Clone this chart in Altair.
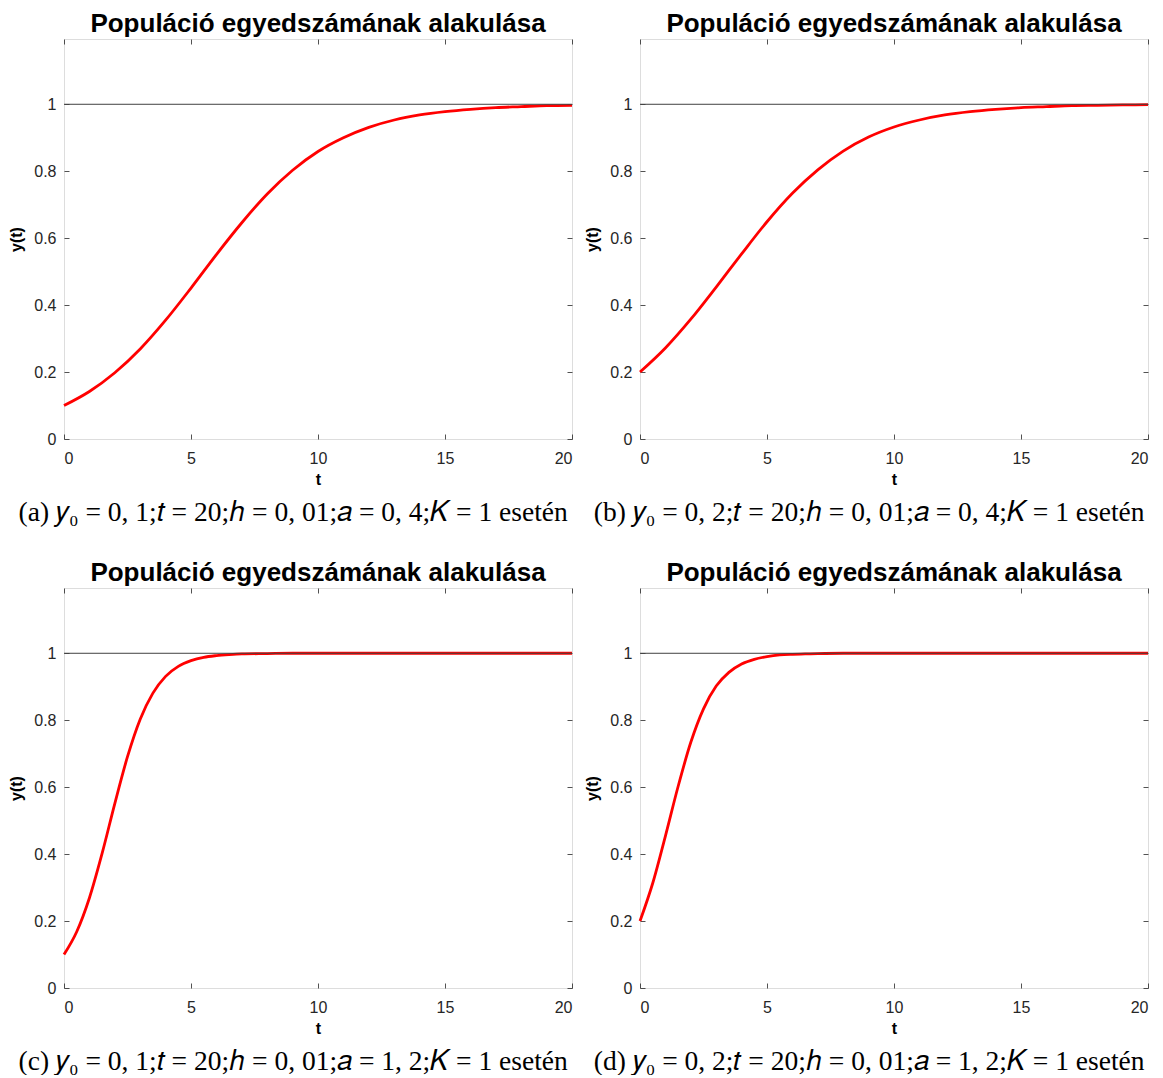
import altair as alt
import pandas as pd

# ---- data ----
TITLE = "Populáció egyedszámának alakulása"
X_LABEL = "t"
Y_LABEL = "y(t)"
K_VALUE = 1.0
T_RANGE = [0, 20]
X_TICKS = [0, 5, 10, 15, 20]
Y_TICKS = [0, 0.2, 0.4, 0.6, 0.8, 1]
Y_MAX = 1.195

# slow growth (a = 0,4)
t_slow = [0, 1, 2, 3, 4, 5, 6, 7, 8, 9, 10, 11, 12, 13, 14, 15, 16, 17, 18, 19, 20]
y_a = [0.10, 0.142, 0.198, 0.269, 0.355, 0.451, 0.551, 0.646, 0.732, 0.803, 0.859,
       0.900, 0.931, 0.953, 0.968, 0.978, 0.985, 0.990, 0.993, 0.996, 0.997]
y_b = [0.20, 0.272, 0.358, 0.454, 0.553, 0.649, 0.734, 0.804, 0.860, 0.902, 0.932,
       0.953, 0.968, 0.978, 0.985, 0.990, 0.993, 0.996, 0.997, 0.998, 0.999]

# fast growth (a = 1,2)
t_fast = [0, 0.5, 1, 1.5, 2, 2.5, 3, 3.5, 4, 4.5, 5, 5.5, 6, 6.5, 7, 8, 9, 10,
          12, 14, 16, 18, 20]
y_c = [0.10, 0.168, 0.269, 0.402, 0.551, 0.691, 0.803, 0.881, 0.931, 0.961, 0.978,
       0.988, 0.993, 0.996, 0.998, 0.999, 1.0, 1.0, 1.0, 1.0, 1.0, 1.0, 1.0]
y_d = [0.20, 0.313, 0.454, 0.602, 0.734, 0.834, 0.902, 0.943, 0.968, 0.982, 0.990,
       0.995, 0.997, 0.998, 0.999, 1.0, 1.0, 1.0, 1.0, 1.0, 1.0, 1.0, 1.0]

CAPTIONS = [
    "(a) 𝑦₀ = 0, 1;𝑡 = 20;ℎ = 0, 01;𝑎 = 0, 4;𝐾 = 1 esetén",
    "(b) 𝑦₀ = 0, 2;𝑡 = 20;ℎ = 0, 01;𝑎 = 0, 4;𝐾 = 1 esetén",
    "(c) 𝑦₀ = 0, 1;𝑡 = 20;ℎ = 0, 01;𝑎 = 1, 2;𝐾 = 1 esetén",
    "(d) 𝑦₀ = 0, 2;𝑡 = 20;ℎ = 0, 01;𝑎 = 1, 2;𝐾 = 1 esetén",
]

SANS = "Liberation Sans"
SERIF = "Liberation Serif"
AX = "#262626"

xscale = alt.Scale(domain=T_RANGE, nice=False, zero=False)
yscale = alt.Scale(domain=[0, Y_MAX], nice=False)

bottom_axis = alt.Axis(orient="bottom", values=X_TICKS, format="~g", offset=-5, tickSize=5,
                       tickColor=AX, tickWidth=0.8, domain=False, grid=False,
                       labelPadding=11, labelFont=SANS, labelFontSize=16, labelColor=AX,
                       title=X_LABEL, titleFont=SANS, titleFontSize=16, titleFontWeight="bold",
                       titleColor="#000000", titlePadding=5)
left_axis = alt.Axis(orient="left", values=Y_TICKS, format="~g", offset=-5, tickSize=5,
                     tickColor=AX, tickWidth=0.8, domain=False, grid=False,
                     labelPadding=8, labelFont=SANS, labelFontSize=16, labelColor=AX,
                     title=Y_LABEL, titleFont=SANS, titleFontSize=16, titleFontWeight="bold",
                     titleColor="#000000", titlePadding=9)
top_axis = alt.Axis(orient="top", values=X_TICKS, offset=-5, tickSize=5, tickColor=AX,
                    tickWidth=0.8, domain=False, grid=False, labels=False, title="")
right_axis = alt.Axis(orient="right", values=Y_TICKS, offset=-5, tickSize=5, tickColor=AX,
                      tickWidth=0.8, domain=False, grid=False, labels=False, title="")


def panel(t, y, caption):
    df = pd.DataFrame({"t": t, "y": y})
    kdf = pd.DataFrame({"t": T_RANGE, "k": [K_VALUE, K_VALUE]})
    curve = alt.Chart(df).mark_line(color="#ff0000", strokeWidth=2.8,
                                    interpolate="monotone").encode(
        x=alt.X("t:Q", scale=xscale, axis=bottom_axis),
        y=alt.Y("y:Q", scale=yscale, axis=left_axis),
    )
    kline = alt.Chart(kdf).mark_line(color="#404040", strokeWidth=1).encode(
        x=alt.X("t:Q", scale=xscale, axis=top_axis),
        y=alt.Y("k:Q", scale=yscale, axis=right_axis),
    )
    plot = alt.layer(curve, kline).resolve_axis(x="independent", y="independent").properties(
        width=508, height=400,
        title=alt.TitleParams(TITLE, font=SANS, fontSize=26, fontWeight="bold",
                              color="#000000", offset=2, anchor="middle"),
    )
    return alt.vconcat(plot, title=alt.TitleParams(caption, orient="bottom", font=SERIF,
                                                   fontSize=27.5, fontWeight="normal",
                                                   color="#000000", offset=11,
                                                   anchor="middle"))


pa = panel(t_slow, y_a, CAPTIONS[0])
pb = panel(t_slow, y_b, CAPTIONS[1])
pc = panel(t_fast, y_c, CAPTIONS[2])
pd_ = panel(t_fast, y_d, CAPTIONS[3])

chart = alt.vconcat(
    alt.hconcat(pa, pb, spacing=5),
    alt.hconcat(pc, pd_, spacing=5),
    spacing=33,
).properties(padding={"left": 0, "top": 2, "right": 0, "bottom": 0}).configure_view(
    stroke=AX, strokeWidth=1
).configure(background="#ffffff")

chart.save("out.html", embed_options={"renderer": "svg", "actions": False})
